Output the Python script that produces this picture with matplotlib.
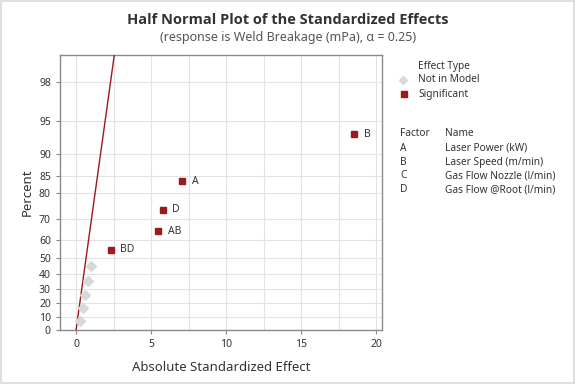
import numpy as np
import matplotlib
matplotlib.use("Agg")
import matplotlib.pyplot as plt
from matplotlib.patches import Rectangle
from statistics import NormalDist

plt.rcParams['font.family'] = ['Noto Sans', 'DejaVu Sans']

# data
not_model_effect = [0.29, 0.45, 0.62, 0.82, 1.0]
not_model_pct = [6.7, 16.3, 26.0, 35.6, 45.2]
sig_terms = ["BD", "AB", "D", "A", "B"]
sig_effect = [2.31, 5.49, 5.78, 7.05, 18.55]
sig_pct = [54.8, 64.4, 74.0, 83.7, 93.3]
ref_pse = 0.99  # slope of reference line (effect per unit half-normal score)
y_ticks = [0, 10, 20, 30, 40, 50, 60, 70, 80, 85, 90, 95, 98]
x_ticks = [0, 5, 10, 15, 20]
factors = ["A", "B", "C", "D"]
factor_names = ["Laser Power (kW)", "Laser Speed (m/min)",
                "Gas Flow Nozzle (l/min)", "Gas Flow @Root (l/min)"]

nd = NormalDist()


def hn(p):
    # percent -> half normal score
    return np.array([nd.inv_cdf(0.5 + v / 200.0) if v > 0 else 0.0 for v in np.atleast_1d(p)])


red = "#9b1a1c"
grey_pt = "#d8d8d8"
txt = "#333333"
spine = "#8a8a8a"

fig = plt.figure(figsize=(5.76, 3.84), dpi=100)
ax = fig.add_axes([60 / 576, 54 / 384, 322 / 576, 275 / 384])

ztop = hn(99.0)[0]
ax.set_ylim(0, ztop)
ax.set_xlim(-1.07, 20.4)

# reference line
zl = np.array([0, ztop])
ax.plot(ref_pse * zl, zl, color=red, lw=1.0, zorder=3)

ax.plot(not_model_effect, hn(not_model_pct), ls="none", marker="D", ms=5.3,
        color=grey_pt, mec=grey_pt, zorder=4)
ax.plot(sig_effect, hn(sig_pct), ls="none", marker="s", ms=5,
        color=red, mec=red, zorder=4)
for t, xv, yv in zip(sig_terms, sig_effect, hn(sig_pct)):
    ax.annotate(t, (xv, yv), xytext=(7, 0), textcoords="offset points",
                va="center", ha="left", fontsize=7.5, color=txt)

ax.set_yticks(hn(y_ticks))
ax.set_yticklabels([str(v) for v in y_ticks])
ax.set_xticks(x_ticks)
ax.set_xticks(np.arange(2.5, 20, 5), minor=True)
ax.tick_params(axis="x", which="minor", length=0)
ax.tick_params(labelsize=7.5, colors=txt, length=3, color=spine)
ax.grid(True, which="both", color="#e3e3e3", lw=0.8)
ax.set_axisbelow(True)
for s in ax.spines.values():
    s.set_color(spine)
    s.set_linewidth(1.0)

ax.set_ylabel("Percent", fontsize=9.5, color=txt, labelpad=4)
ax.set_xlabel("Absolute Standardized Effect", fontsize=9.5, color=txt, labelpad=8)

fig.text(0.5, 1 - 20 / 384, "Half Normal Plot of the Standardized Effects",
         ha="center", va="center", fontsize=10.5, fontweight="bold", color=txt,
         family=["Open Sans", "DejaVu Sans"])
fig.text(0.5, 1 - 38 / 384, "(response is Weld Breakage (mPa), \u03b1 = 0.25)",
         ha="center", va="center", fontsize=9, color="#555555")

# legend drawn by hand
fs = 7.3
fig.text(418 / 576, 1 - 67 / 384, "Effect Type", fontsize=fs, color=txt, va="center")
fig.text(418 / 576, 1 - 80 / 384, "Not in Model", fontsize=fs, color=txt, va="center")
fig.text(418 / 576, 1 - 94 / 384, "Significant", fontsize=fs, color=txt, va="center")
fig.lines.append(plt.Line2D([403 / 576], [1 - 80 / 384], marker="D", ms=4.5,
                            color=grey_pt, transform=fig.transFigure))
fig.lines.append(plt.Line2D([404 / 576], [1 - 94 / 384], marker="s", ms=5,
                            color=red, transform=fig.transFigure))

fig.text(400 / 576, 1 - 134 / 384, "Factor", fontsize=fs, color=txt, va="center")
fig.text(445 / 576, 1 - 134 / 384, "Name", fontsize=fs, color=txt, va="center")
for i, (f, n) in enumerate(zip(factors, factor_names)):
    yy = 1 - (148.5 + 13.7 * i) / 384
    fig.text(400 / 576, yy, f, fontsize=fs, color=txt, va="center")
    fig.text(445 / 576, yy, n, fontsize=fs, color=txt, va="center")

fig.patches.append(Rectangle((0.002, 0.003), 0.995, 0.994, transform=fig.transFigure,
                             fill=False, ec="#d9d9d9", lw=1.2))

fig.savefig("out.png", dpi=100)
